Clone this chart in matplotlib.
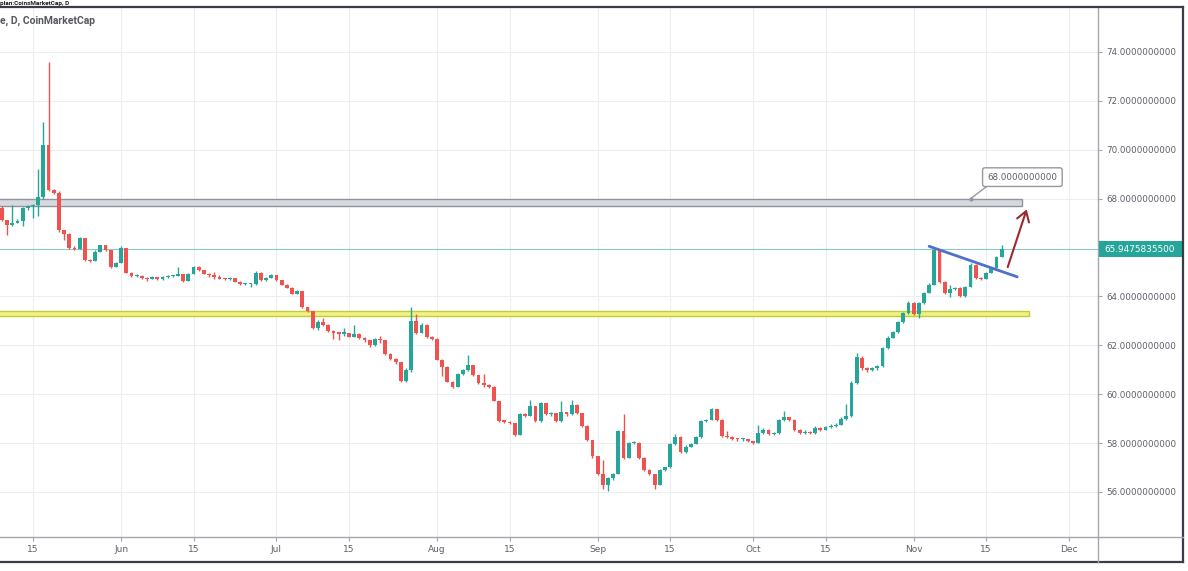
import matplotlib
matplotlib.use("Agg")
import matplotlib.pyplot as plt
import matplotlib.dates as mdates
from matplotlib.patches import Rectangle
from matplotlib.lines import Line2D
import numpy as np

W, H = 1188, 571
UP = "#26a69a"
DOWN = "#ef5350"
GRID = "#eceef2"
AXIS = "#a3a6af"
LABEL = "#5d606b"
FRAME = "#3a3d45"

# ---- daily candles (open = previous close) ----
start_date = "2020-05-09"
first_open = 67.63
closes = [
    67.14, 66.94, 67.02, 67.10, 67.60, 67.68, 67.75, 68.05, 70.20, 68.35,
    68.25, 66.70, 66.55, 66.00, 65.95, 66.40, 65.50, 65.45, 65.83, 66.10,
    65.88, 65.22, 65.38, 66.00, 64.97, 64.85, 64.85, 64.77, 64.72, 64.78,
    64.70, 64.80, 64.82, 64.84, 64.90, 64.65, 64.93, 65.22, 65.09, 64.93,
    64.86, 64.80, 64.73, 64.70, 64.74, 64.60, 64.50, 64.50, 64.50, 64.97,
    64.68, 64.76, 64.86, 64.66, 64.48, 64.36, 64.11, 64.22, 63.56, 63.42,
    62.72, 62.95, 62.84, 62.60, 62.50, 62.48, 62.50, 62.35, 62.48, 62.30,
    62.20, 62.00, 62.25, 62.20, 61.65, 61.45, 61.30, 60.55, 61.00, 63.00,
    62.52, 62.84, 62.35, 62.25, 61.41, 61.13, 60.51, 60.30, 60.84, 60.98,
    61.18, 60.78, 60.45, 60.36, 60.30, 59.72, 58.92, 58.88, 58.80, 58.34,
    59.20, 59.12, 59.50, 58.90, 59.62, 59.18, 59.22, 58.90, 59.25, 59.18,
    59.55, 59.22, 58.70, 58.12, 57.45, 56.75, 56.30, 56.55, 56.75, 58.50,
    57.40, 58.00, 58.02, 57.40, 56.90, 56.72, 56.30, 56.88, 57.00, 57.96,
    58.25, 57.62, 57.85, 57.98, 58.25, 58.90, 58.96, 59.38, 58.96, 58.30,
    58.25, 58.18, 58.15, 58.16, 58.08, 58.02, 58.40, 58.55, 58.38, 58.40,
    58.95, 59.05, 58.95, 58.55, 58.42, 58.45, 58.40, 58.62, 58.55, 58.65,
    58.70, 58.75, 59.00, 59.10, 60.45, 61.50, 61.05, 61.00, 61.05, 61.15,
    61.90, 62.30, 62.55, 62.95, 63.33, 63.74, 63.29, 63.74, 64.15, 64.48,
    65.90, 64.60, 64.15, 64.30, 64.35, 64.00, 64.40, 65.30, 64.77, 64.72,
    64.97, 65.18, 65.62, 65.95,
]
highs = [
    67.70, 67.14, 67.75, 67.15, 67.65, 67.72, 67.80, 69.20, 71.15, 73.60,
    68.40, 68.30, 66.70, 66.60, 66.05, 66.45, 66.40, 65.55, 65.88, 66.12,
    66.12, 65.90, 65.42, 66.05, 66.00, 64.98, 64.90, 64.86, 64.80, 64.82,
    64.80, 64.84, 64.86, 64.88, 65.22, 64.92, 64.96, 65.26, 65.24, 65.10,
    64.95, 64.98, 64.88, 64.75, 64.78, 64.76, 64.62, 64.55, 64.54, 65.02,
    64.98, 64.80, 64.92, 64.88, 64.68, 64.50, 64.38, 64.26, 64.24, 63.58,
    63.42, 63.05, 63.10, 62.88, 62.62, 62.56, 62.70, 62.52, 62.85, 62.50,
    62.34, 62.22, 62.30, 62.36, 62.22, 61.70, 61.48, 61.32, 61.05, 63.58,
    63.30, 62.90, 62.88, 62.38, 62.28, 61.45, 61.15, 60.52, 60.88, 61.02,
    61.60, 61.20, 60.80, 60.82, 60.40, 60.32, 59.74, 58.96, 58.92, 58.82,
    59.24, 59.24, 59.78, 59.52, 59.68, 59.64, 59.28, 59.24, 59.72, 59.28,
    59.75, 59.58, 59.24, 58.72, 58.14, 57.48, 57.30, 56.60, 56.78, 58.55,
    59.20, 58.05, 58.08, 58.04, 57.42, 56.92, 56.74, 56.92, 57.04, 58.00,
    58.35, 58.28, 57.90, 58.02, 58.30, 58.95, 59.00, 59.42, 59.40, 58.98,
    58.50, 58.28, 58.22, 58.22, 58.18, 58.10, 58.75, 58.60, 58.56, 58.45,
    59.00, 59.30, 59.08, 58.98, 58.58, 58.52, 58.50, 58.68, 58.66, 58.70,
    58.78, 58.82, 59.05, 59.60, 60.55, 61.70, 61.55, 61.10, 61.10, 61.20,
    61.95, 62.36, 62.60, 63.00, 63.38, 63.82, 63.76, 63.78, 64.20, 64.55,
    65.95, 65.92, 64.62, 64.45, 64.40, 64.40, 64.44, 65.35, 65.32, 64.80,
    65.00, 65.22, 65.66, 66.10,
]
lows = [
    67.10, 66.50, 66.90, 67.00, 66.90, 67.55, 67.20, 67.30, 68.00, 68.30,
    68.20, 66.65, 66.30, 65.95, 65.90, 65.95, 65.45, 65.40, 65.45, 65.80,
    65.85, 65.18, 65.20, 65.35, 64.95, 64.80, 64.78, 64.72, 64.65, 64.70,
    64.66, 64.66, 64.76, 64.78, 64.82, 64.60, 64.62, 64.90, 65.05, 64.90,
    64.80, 64.72, 64.70, 64.66, 64.68, 64.57, 64.48, 64.46, 64.38, 64.45,
    64.64, 64.62, 64.74, 64.62, 64.45, 64.33, 64.08, 64.08, 63.52, 63.38,
    62.68, 62.62, 62.80, 62.56, 62.25, 62.22, 62.40, 62.32, 62.33, 62.26,
    62.15, 61.95, 61.98, 62.10, 61.60, 61.40, 61.25, 60.50, 60.50, 60.92,
    62.48, 62.50, 62.30, 62.20, 61.38, 60.75, 60.48, 60.25, 60.28, 60.80,
    60.96, 60.75, 60.42, 60.30, 60.26, 59.70, 58.88, 58.84, 58.76, 58.30,
    58.32, 59.05, 59.10, 58.86, 58.88, 59.14, 59.12, 58.86, 58.88, 59.10,
    59.14, 59.18, 58.66, 58.08, 57.40, 56.70, 56.10, 56.05, 56.50, 56.72,
    57.36, 57.38, 57.95, 57.36, 56.86, 56.68, 56.10, 56.28, 56.86, 56.98,
    57.94, 57.58, 57.60, 57.84, 57.96, 58.22, 58.86, 58.94, 58.92, 58.26,
    58.20, 58.14, 58.10, 58.10, 58.04, 57.98, 58.00, 58.36, 58.34, 58.32,
    58.36, 58.92, 58.90, 58.50, 58.38, 58.38, 58.35, 58.38, 58.50, 58.52,
    58.60, 58.65, 58.72, 58.96, 59.05, 60.40, 61.00, 60.92, 60.96, 61.00,
    61.10, 61.86, 62.28, 62.52, 62.92, 63.30, 63.25, 63.10, 63.70, 64.12,
    64.45, 64.55, 64.10, 63.98, 64.25, 63.96, 63.98, 64.38, 64.72, 64.68,
    64.70, 64.95, 65.16, 65.60,
]
last_price = 65.9475835500

# drawings
resistance_band = (67.71, 68.0)
support_band = (63.21, 63.42)
band_end = "2020-11-22"
trend_dates = ["2020-11-04", "2020-11-21"]
trend_values = [66.05, 64.80]
arrow_dates = ["2020-11-19", "2020-11-23"]
arrow_values = [65.09, 67.67]
callout_text = "68.0000000000"
callout_anchor = ("2020-11-12", 68.0)
callout_box = ("2020-11-22", 68.88)

tick_dates = ["2020-05-15", "2020-06-01", "2020-06-15", "2020-07-01", "2020-07-15",
              "2020-08-01", "2020-08-15", "2020-09-01", "2020-09-15", "2020-10-01",
              "2020-10-15", "2020-11-01", "2020-11-15", "2020-12-01"]
tick_labels = ["15", "Jun", "15", "Jul", "15", "Aug", "15", "Sep", "15", "Oct",
               "15", "Nov", "15", "Dec"]
# 66 sits under the last-price tag, so it is left out of the scale
price_ticks = [56, 58, 60, 62, 64, 68, 70, 72, 74]

opens = [first_open] + closes[:-1]
days = mdates.datestr2num(start_date) + np.arange(len(closes))


def fx(x):
    return x / W


def fy(y):
    return 1 - y / H


fig = plt.figure(figsize=(W / 100, H / 100), dpi=100)
fig.patch.set_facecolor("white")
ax = fig.add_axes([0, fy(537), fx(1098), (537 - 7) / H])
ax.set_facecolor("white")

may15 = mdates.datestr2num("2020-05-15")
ax.set_xlim(may15 - 33 / 5.18, may15 + (1098 - 33) / 5.18)
ax.set_ylim(74 - (537 - 52) / 24.44, 74 + (52 - 7) / 24.44)

# candles
for d, o, h, l, c in zip(days, opens, highs, lows, closes):
    col = UP if c >= o else DOWN
    ax.vlines(d, l, h, color=col, lw=1, zorder=3)
    body = max(abs(c - o), 0.045)
    ax.bar(d, body, bottom=min(o, c), width=0.74, color=col, lw=0, zorder=4)

# bands
x0 = ax.get_xlim()[0] - 2
xe = mdates.datestr2num(band_end)
ax.add_patch(Rectangle((x0, resistance_band[0]), xe - x0, resistance_band[1] - resistance_band[0],
                       fc="#d6d9df", ec="#8f939c", lw=1, zorder=2))
ax.add_patch(Rectangle((x0, support_band[0]), xe + 1.2 - x0, support_band[1] - support_band[0],
                       fc="#eef384", ec="#c3cb3a", lw=1, zorder=2))

ax.axhline(last_price, color=UP, lw=0.8, alpha=0.55, zorder=1)

# trend line and arrow
ax.plot(mdates.datestr2num(trend_dates), trend_values, color="#4f6fc9", lw=2, zorder=5,
        solid_capstyle="round")
ad = mdates.datestr2num(arrow_dates)
ax.annotate("", xy=(ad[1], arrow_values[1]), xytext=(ad[0], arrow_values[0]),
            arrowprops=dict(arrowstyle="->,head_length=0.7,head_width=0.45",
                            color="#9b2a2e", lw=1.5), zorder=6)

# callout
ca = mdates.datestr2num(callout_anchor[0])
cb = mdates.datestr2num(callout_box[0])
ax.plot([ca, ca + 3.3], [callout_anchor[1], callout_anchor[1] + 0.53], color="#9598a1", lw=1, zorder=6)
ax.plot([ca], [callout_anchor[1]], "o", ms=2, color="#9598a1", zorder=6)
ax.text(cb, callout_box[1], callout_text, ha="center", va="center", fontsize=6.3,
        color=LABEL, zorder=7,
        bbox=dict(boxstyle="round,pad=0.55,rounding_size=0.25", fc="white", ec="#9598a1", lw=1))

# axes styling
ax.set_xticks(mdates.datestr2num(tick_dates))
ax.set_xticklabels(tick_labels)
ax.set_yticks(price_ticks)
ax.set_yticklabels([f"{v:.10f}" for v in price_ticks])
ax.yaxis.tick_right()
ax.grid(True, color=GRID, lw=0.8, zorder=0)
ax.set_axisbelow(True)
for s in ("top", "left"):
    ax.spines[s].set_visible(False)
for s in ("right", "bottom"):
    ax.spines[s].set_color(AXIS)
    ax.spines[s].set_linewidth(1)
ax.tick_params(axis="x", length=3, pad=3, colors=AXIS, labelcolor=LABEL, labelsize=6.5)
ax.tick_params(axis="y", length=3, pad=3, colors=AXIS, labelcolor=LABEL, labelsize=6.3)

# price label on the scale
fig.add_artist(Rectangle((fx(1099), fy(257)), fx(1183) - fx(1099), (257 - 241) / H,
                         transform=fig.transFigure, fc=UP, ec="none"))
fig.text(fx(1104), fy(249), f"{last_price:.10f}", color="white", fontsize=6.4,
         va="center", ha="left")

# frame lines
fig.add_artist(Line2D([0, fx(1183)], [fy(7), fy(7)], transform=fig.transFigure, color=FRAME, lw=1.6))
fig.add_artist(Line2D([fx(1183), fx(1183)], [fy(7), fy(562)], transform=fig.transFigure, color=FRAME, lw=1.6))
fig.add_artist(Line2D([0, fx(1183)], [fy(562), fy(562)], transform=fig.transFigure, color=FRAME, lw=1.6))
fig.add_artist(Line2D([fx(1098), fx(1183)], [fy(537), fy(537)], transform=fig.transFigure, color=AXIS, lw=1))
fig.add_artist(Line2D([fx(1098), fx(1098)], [fy(537), fy(562)], transform=fig.transFigure, color=AXIS, lw=1))

# header texts
fig.text(0, fy(3.2), "plan:CoinsMarketCap, D", fontsize=4.6, fontweight="bold",
         color="#1a1a1a", va="center", ha="left", family="Roboto")
fig.text(0, fy(21), "e, D, CoinMarketCap", fontsize=7.5, fontweight="bold",
         color="#55585f", va="center", ha="left", family="Roboto")

fig.savefig("out.png", dpi=100, facecolor="white")
